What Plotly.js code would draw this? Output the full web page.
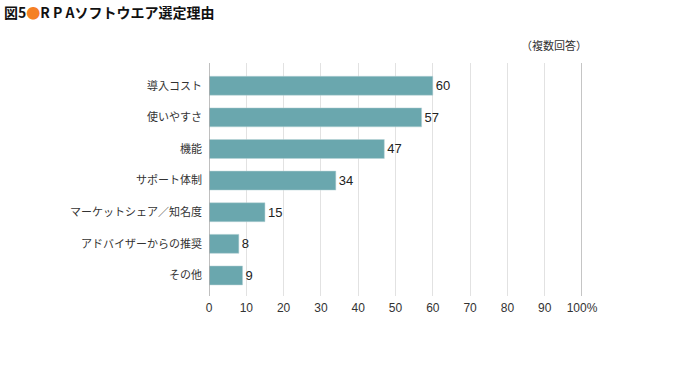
<!DOCTYPE html>
<html><head><meta charset="utf-8">
<script src="https://cdn.plot.ly/plotly-3.0.1.min.js"></script>
<style>body{margin:0;background:#fff}#c{width:680px;height:379px}</style>
</head><body><div id="c"></div>
<script>
const categories = ["導入コスト","使いやすさ","機能","サポート体制","マーケットシェア／知名度","アドバイザーからの推奨","その他"];
const values = [60,57,47,34,15,8,9];
const xTicks = [0,10,20,30,40,50,60,70,80,90,100];
const xTickLabels = ["0","10","20","30","40","50","60","70","80","90","100%"];

const font = '"Noto Sans CJK JP", "Noto Sans", sans-serif';
const numFont = '"Liberation Sans", Arial, sans-serif';
const trace = {
  type:'bar', orientation:'h',
  x: values, y: categories,
  width: 0.6,
  marker:{color:'#6aa7ae', line:{color:'#b9d3d6', width:0.5}},
  text: values.map(String), textposition:'outside',
  textfont:{family:numFont, size:13, color:'#222'},
  cliponaxis:false, hoverinfo:'none'
};
const layout = {
  width:680, height:379,
  margin:{l:209, r:98, t:63, b:83},
  paper_bgcolor:'#fff', plot_bgcolor:'#fff',
  showlegend:false,
  font:{family:font, color:'#333'},
  xaxis:{range:[0,100], tickvals:xTicks, ticktext:xTickLabels, showgrid:true, gridcolor:'#e2e2e2', gridwidth:1,
    zeroline:false, showline:false, ticks:'', ticklabelstandoff:3, tickfont:{size:12, color:'#333', family:numFont}, fixedrange:true},
  yaxis:{type:'category', range:[6.65,-0.72], showgrid:false, zeroline:false, showline:false, ticks:'',
    ticklabelstandoff:6, tickfont:{size:11, color:'#333', family:font}, fixedrange:true},
  shapes:[
    {type:'line', xref:'x', yref:'paper', x0:0, x1:0, y0:0, y1:1, line:{color:'#aaaaaa', width:1.5}},
    {type:'line', xref:'x', yref:'paper', x0:100, x1:100, y0:0, y1:1, line:{color:'#8a8a8a', width:1}}
  ],
  annotations:[
    {xref:'paper', yref:'paper', x:0, y:1, xshift:-207, yshift:63, xanchor:'left', yanchor:'top',
     text:'<b>図5<span style="color:#f58025">●</span>R P Aソフトウエア選定理由</b>', showarrow:false,
     font:{family:font, size:14, color:'#111'}},
    {xref:'x', yref:'paper', x:92.5, y:1, yshift:18, xanchor:'center', yanchor:'middle',
     text:'（複数回答）', showarrow:false, font:{family:font, size:11, color:'#333'}}
  ]
};
Plotly.newPlot('c',[trace],layout,{displayModeBar:false, staticPlot:true});
</script></body></html>
